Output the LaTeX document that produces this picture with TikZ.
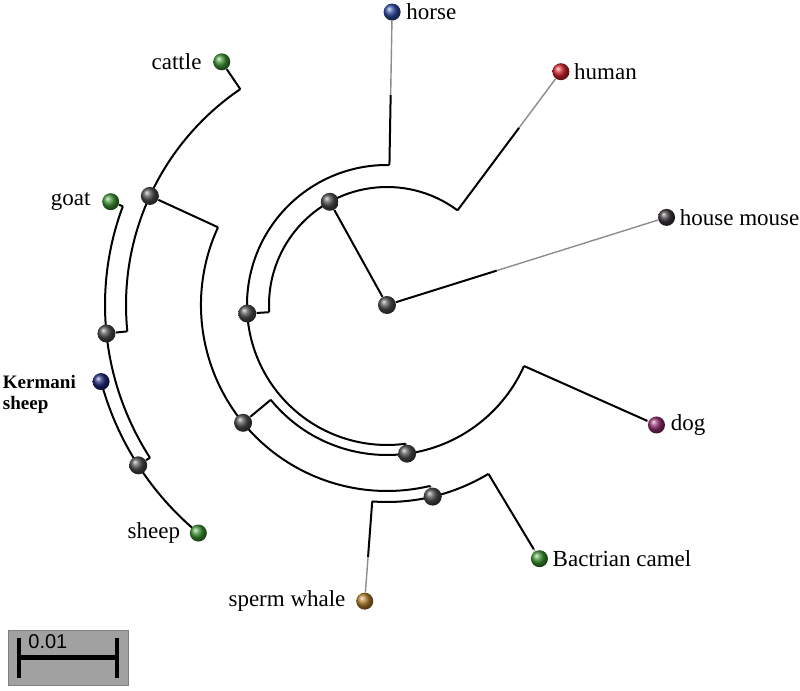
\documentclass[tikz,border=0pt]{standalone}
\usepackage{fontspec}
\setmainfont{Liberation Serif}
\newfontfamily\barfont{Liberation Sans}
\usepackage{tikz}
\usepackage{xcolor}
\usetikzlibrary{positioning}
\pgfdeclarelayer{bg}
\pgfsetlayers{bg,main}

\definecolor{horseblue}{RGB}{45,75,160}
\definecolor{humanred}{RGB}{205,35,45}
\definecolor{mousegray}{RGB}{60,55,60}
\definecolor{dogpurple}{RGB}{145,45,110}
\definecolor{leafgreen}{RGB}{60,145,50}
\definecolor{whalebrown}{RGB}{175,125,45}
\definecolor{kermblue}{RGB}{30,40,120}
\definecolor{knotgray}{RGB}{75,75,75}

\tikzset{
    limb/.style={line width=1pt, black},
    twig/.style={line width=0.7pt, black!45},
    knot/.style={circle, inner sep=0pt, minimum size=9pt, ball color=knotgray},
    leaf/.style={circle, inner sep=0pt, minimum size=8.5pt, ball color=#1},
    lbl/.style={inner sep=0pt, font=\fontsize{11.5}{13}\selectfont},
}

\begin{document}
\begin{tikzpicture}[x=0.5pt, y=0.5pt]
        \useasboundingbox (-387,-386) rectangle (413,305);

        % internal nodes
        \node[knot] (R) at (0,0) {};
        \node[knot] (A) at (119:118) {};
        \node[knot] (B) at (183.5:140) {};
        \node[knot] (D) at (277.7:150) {};
        \node[knot] (E) at (219.3:186) {};
        \node[knot] (F) at (283.4:197) {};
        \node[knot] (G) at (155.3:261) {};
        \node[knot] (H) at (185.8:282) {};
        \node[knot] (I) at (212.8:296) {};

        % leaves
        \node[leaf=mousegray] (mouse) at (17.4:293) {};
        \node[leaf=humanred] (human) at (53.3:291) {};
        \node[leaf=horseblue] (horse) at (89:293) {};
        \node[leaf=dogpurple] (dog) at (336:295) {};
        \node[leaf=leafgreen] (camel) at (301:296) {};
        \node[leaf=whalebrown] (whale) at (265.7:297) {};
        \node[leaf=leafgreen] (sheep) at (230.4:296) {};
        \node[leaf=kermblue] (kerm) at (195:296) {};
        \node[leaf=leafgreen] (goat) at (159.5:295) {};
        \node[leaf=leafgreen] (cattle) at (124.2:294) {};

        % corners
        \coordinate (a1) at (53.3:118);  \coordinate (a2) at (183.5:118);
        \coordinate (b1) at (89:140);    \coordinate (b2) at (277.7:140);
        \coordinate (d1) at (219.2:150); \coordinate (d2) at (336:150);
        \coordinate (e1) at (155.3:186); \coordinate (e2) at (283.4:186);
        \coordinate (f1) at (265.7:197); \coordinate (f2) at (301:197);
        \coordinate (g1) at (124.2:261); \coordinate (g2) at (185.8:261);
        \coordinate (h1) at (159.5:282); \coordinate (h2) at (212.8:282);
        \coordinate (mb) at (17.4:115);  \coordinate (hb) at (53.3:221);
        \coordinate (ob) at (89:210);    \coordinate (db) at (336:285);
        \coordinate (cb) at (301:285);   \coordinate (wb) at (265.7:253);

        \begin{pgfonlayer}{bg}
            \draw[limb] (a1) arc[start angle=53.3, end angle=183.5, radius=118*0.5pt];
            \draw[limb] (b1) arc[start angle=89, end angle=277.7, radius=140*0.5pt];
            \draw[limb] (d1) arc[start angle=219.2, end angle=336, radius=150*0.5pt];
            \draw[limb] (e1) arc[start angle=155.3, end angle=283.4, radius=186*0.5pt];
            \draw[limb] (f1) arc[start angle=265.7, end angle=301, radius=197*0.5pt];
            \draw[limb] (g1) arc[start angle=124.2, end angle=185.8, radius=261*0.5pt];
            \draw[limb] (h1) arc[start angle=159.5, end angle=212.8, radius=282*0.5pt];
            \draw[limb] (kerm.center) arc[start angle=195, end angle=230.4, radius=296*0.5pt];

            \draw[limb] (R) -- (A);
            \draw[limb] (R) -- (mb);  \draw[twig] (mb) -- (mouse);
            \draw[limb] (a1) -- (hb); \draw[twig] (hb) -- (human);
            \draw[limb] (a2) -- (B);
            \draw[limb] (b1) -- (ob); \draw[twig] (ob) -- (horse);
            \draw[limb] (b2) -- (D);
            \draw[limb] (d1) -- (E);
            \draw[limb] (d2) -- (db); \draw[twig] (db) -- (dog);
            \draw[limb] (e1) -- (G);
            \draw[limb] (e2) -- (F);
            \draw[limb] (f1) -- (wb); \draw[twig] (wb) -- (whale);
            \draw[limb] (f2) -- (cb); \draw[twig] (cb) -- (camel);
            \draw[limb] (g1) -- (cattle);
            \draw[limb] (g2) -- (H);
            \draw[limb] (h1) -- (goat);
            \draw[limb] (h2) -- (I);
        \end{pgfonlayer}

        % labels
        \node[lbl, right=2.5pt of horse] (thorse) {horse};
        \node[lbl, right=2pt of human] (thuman) {human};
        \node[lbl, right=2pt of mouse] (tmouse) {house mouse};
        \node[lbl, right=2.5pt of dog] (tdog) {dog};
        \node[lbl, right=2pt of camel] (tcamel) {Bactrian camel};
        \node[lbl, left=5pt of whale] (twhale) {sperm whale};
        \node[lbl, left=4.5pt of sheep] (tsheep) {sheep};
        \node[lbl, left=5.5pt of goat] (tgoat) {goat};
        \node[lbl, left=5.5pt of cattle] (tcattle) {cattle};
        \node[inner sep=0pt, anchor=north east, align=left, font=\bfseries\fontsize{9.5}{10.5}\selectfont]
            (tkerm) at ([xshift=-8pt, yshift=3.5pt]kerm.west) {Kermani\\sheep};

        % scale bar
        \draw[fill=black!37, draw=black!50] (-379,-325) rectangle (-259,-380);
        \coordinate (s1) at (-368,-353);
        \coordinate (s2) at (-270,-353);
        \draw[line width=2.5pt] (s1) -- (s2);
        \draw[line width=2pt] ([yshift=10pt]s1) -- ([yshift=-10pt]s1);
        \draw[line width=2pt] ([yshift=10pt]s2) -- ([yshift=-10pt]s2);
        \node[inner sep=0pt, anchor=west, font=\barfont\fontsize{10}{12}\selectfont] (tbar) at (-359,-337) {0.01};
    \end{tikzpicture}
\end{document}
